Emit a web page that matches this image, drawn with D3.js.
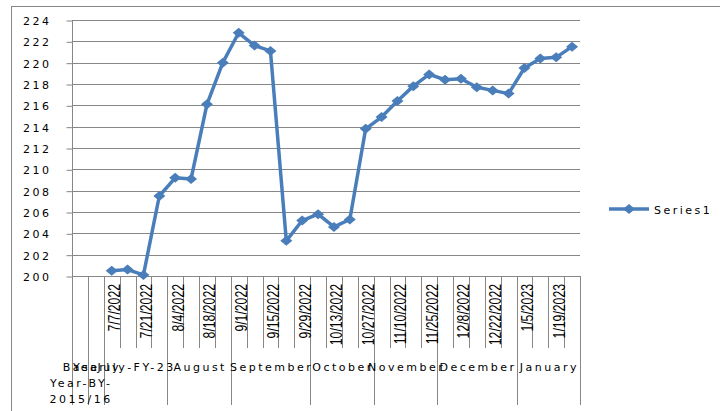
<!DOCTYPE html>
<html>
<head>
<meta charset="utf-8">
<script src="https://cdn.jsdelivr.net/npm/d3@7"></script>
<style>
  body { margin: 0; background: #fff; }
  svg { display: block; }
  .wide { font-family: "DejaVu Sans", Verdana, sans-serif; font-size: 11px; letter-spacing: 2.5px; fill: #000; }
  .narrow { font-family: "Liberation Sans", Arial, sans-serif; font-size: 17px; fill: #000; }
</style>
</head>
<body>
<script>
(function () {
  'use strict';

  // inner category level (first two slots belong to the base year / yearly rows)
  var dates = ["", "",
    "7/7/2022", "7/14/2022", "7/21/2022", "7/28/2022",
    "8/4/2022", "8/11/2022", "8/18/2022", "8/25/2022",
    "9/1/2022", "9/8/2022", "9/15/2022", "9/22/2022", "9/29/2022",
    "10/6/2022", "10/13/2022", "10/20/2022", "10/27/2022",
    "11/3/2022", "11/10/2022", "11/17/2022", "11/25/2022",
    "12/1/2022", "12/8/2022", "12/15/2022", "12/22/2022", "12/29/2022",
    "1/5/2023", "1/12/2023", "1/19/2023", "1/26/2023"];

  // outer category level and how many inner slots each one covers
  var groups = [["Base", "Year-BY-", "2015/16"], ["Yearly"], ["July-FY-23"], ["August"],
    ["September"], ["October"], ["November"], ["December"], ["January"]];
  var groupSizes = [1, 1, 4, 4, 5, 4, 4, 5, 4];

  var series1 = [null, null,
    200.5, 200.6, 200.1, 207.5,
    209.2, 209.1, 216.1, 220.0,
    222.8, 221.6, 221.1, 203.3, 205.2,
    205.8, 204.6, 205.3, 213.8,
    214.9, 216.4, 217.8, 218.9,
    218.4, 218.5, 217.7, 217.4, 217.1,
    219.5, 220.4, 220.5, 221.5];

  var yTicks = d3.range(200, 225, 2);

  var W = 720, H = 411;
  var plot = {left: 72, right: 580, top: 20, bottom: 276};
  var blue = "#4a7ebb", grid = "#878787";

  var svg = d3.select("body").append("svg")
    .attr("width", W)
    .attr("height", H);

  // chart frame (runs off the right and bottom edge)
  svg.append("rect")
    .attr("x", 11.5).attr("y", 6.5)
    .attr("width", W).attr("height", H)
    .attr("fill", "none").attr("stroke", grid);

  var x = d3.scaleBand().domain(d3.range(dates.length)).range([plot.left, plot.right]);
  var y = d3.scaleLinear().domain([200, 224]).range([plot.bottom, plot.top]);
  var bw = x.bandwidth();

  // horizontal gridlines
  svg.append("g").selectAll("line")
    .data(yTicks.slice(1))
    .enter().append("line")
    .attr("x1", plot.left).attr("x2", plot.right)
    .attr("y1", function (d) { return Math.round(y(d)) + 0.5; })
    .attr("y2", function (d) { return Math.round(y(d)) + 0.5; })
    .attr("stroke", grid);

  // y axis
  var yAxis = d3.axisLeft(y).tickValues(yTicks).tickSize(6).tickPadding(15);
  var gy = svg.append("g")
    .attr("transform", "translate(" + (plot.left + 0.5) + ",0)")
    .call(yAxis);
  gy.select(".domain").attr("stroke", grid).attr("d", "M0," + plot.top + "V" + plot.bottom);
  gy.selectAll(".tick line").attr("stroke", grid)
    .attr("transform", function () { return "translate(0,0.5)"; });
  gy.selectAll(".tick text").attr("class", "wide").attr("font-family", null).attr("font-size", null)
    .attr("dy", "0.4em");

  // x axis line
  svg.append("line")
    .attr("x1", plot.left).attr("x2", plot.right)
    .attr("y1", plot.bottom + 0.5).attr("y2", plot.bottom + 0.5)
    .attr("stroke", grid);

  // inner level separators
  var bounds = d3.range(dates.length + 1).map(function (i) {
    return i < dates.length ? x(i) : plot.right;
  });
  svg.append("g").selectAll("line")
    .data(bounds)
    .enter().append("line")
    .attr("x1", function (d) { return Math.round(d) + 0.5; })
    .attr("x2", function (d) { return Math.round(d) + 0.5; })
    .attr("y1", plot.bottom).attr("y2", 348)
    .attr("stroke", grid);

  // outer level separators
  var starts = [0];
  groupSizes.forEach(function (n, i) { starts.push(starts[i] + n); });
  svg.append("g").selectAll("line")
    .data(starts)
    .enter().append("line")
    .attr("x1", function (d) { return Math.round(bounds[d]) + 0.5; })
    .attr("x2", function (d) { return Math.round(bounds[d]) + 0.5; })
    .attr("y1", 348).attr("y2", 405)
    .attr("stroke", grid);

  // date labels, every other one
  svg.append("g").selectAll("text")
    .data(dates.map(function (d, i) { return {d: d, i: i}; })
      .filter(function (e) { return e.i % 2 === 0 && e.d; }))
    .enter().append("text")
    .attr("class", "narrow")
    .attr("text-anchor", "end")
    .attr("transform", function (e) {
      return "translate(" + (x(e.i) + bw / 2 + 8.5) + ",284) rotate(-90) scale(0.72,1)";
    })
    .text(function (e) { return e.d; });

  // month / group labels
  var gl = svg.append("g").selectAll("text")
    .data(groups.map(function (g, i) {
      return {lines: g, cx: (bounds[starts[i]] + bounds[starts[i + 1]]) / 2};
    }))
    .enter().append("text")
    .attr("class", "wide")
    .attr("text-anchor", "middle");
  gl.selectAll("tspan")
    .data(function (d) { return d.lines.map(function (t) { return {t: t, cx: d.cx}; }); })
    .enter().append("tspan")
    .attr("x", function (d) { return d.cx + 1.2; })
    .attr("y", function (d, i) { return 371 + i * 16; })
    .text(function (d) { return d.t; });

  // series line
  var line = d3.line()
    .defined(function (d) { return d != null; })
    .x(function (d, i) { return x(i) + bw / 2; })
    .y(function (d) { return y(d); });

  svg.append("path")
    .datum(series1)
    .attr("d", line)
    .attr("fill", "none")
    .attr("stroke", blue)
    .attr("stroke-width", 3.5)
    .attr("stroke-linejoin", "round");

  var diamond = "M-6,0L0,-5L6,0L0,5Z";
  svg.append("g").selectAll("path")
    .data(series1.map(function (v, i) { return {v: v, i: i}; })
      .filter(function (e) { return e.v != null; }))
    .enter().append("path")
    .attr("d", diamond)
    .attr("transform", function (e) {
      return "translate(" + (x(e.i) + bw / 2) + "," + y(e.v) + ")";
    })
    .attr("fill", blue);

  // legend
  var lg = svg.append("g").attr("transform", "translate(609,209)");
  lg.append("line").attr("x1", 0).attr("x2", 40)
    .attr("stroke", blue).attr("stroke-width", 3.5);
  lg.append("path").attr("d", diamond).attr("transform", "translate(20,0)").attr("fill", blue);
  lg.append("text").attr("class", "wide")
    .attr("x", 45).attr("y", 5)
    .text("Series1");
})();
</script>
</body>
</html>
